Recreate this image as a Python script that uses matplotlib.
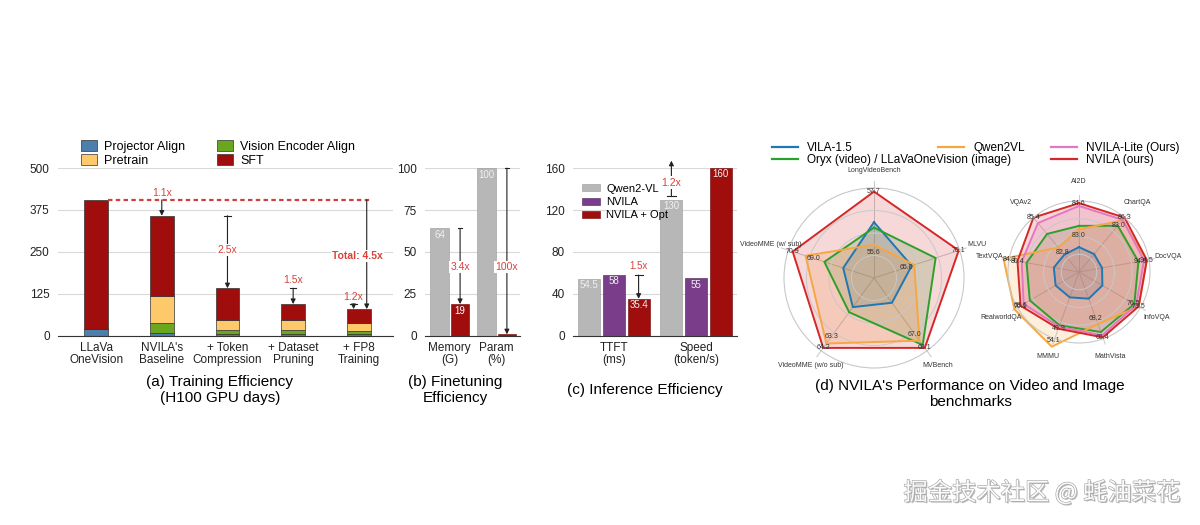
import numpy as np
import matplotlib.pyplot as plt
import matplotlib.patheffects as pe
from matplotlib.patches import Patch
from matplotlib.lines import Line2D

plt.rcParams['font.family'] = ['Liberation Sans', 'DejaVu Sans']

# ---- (a) training efficiency, H100 GPU days
train_cats = ['LLaVa\nOneVision', "NVILA's\nBaseline", '+ Token\nCompression', '+ Dataset\nPruning', '+ FP8\nTraining']
proj_align = [20, 10, 5, 5, 5]
vis_align = [0, 30, 12, 12, 10]
pretrain = [0, 80, 30, 30, 25]
sft = [385, 238, 95, 48, 40]
train_steps = ['1.1x', '2.5x', '1.5x', '1.2x']

# ---- (b) finetuning efficiency
ft_cats = ['Memory\n(G)', 'Param\n(%)']
ft_base = [64, 100]
ft_nvila = [19, 1]
ft_ratio = ['3.4x', '100x']

# ---- (c) inference efficiency
inf_cats = ['TTFT\n(ms)', 'Speed\n(token/s)']
inf_qwen = [54.5, 130]
inf_nvila = [58, 55]
inf_opt = [35.4, 160]
inf_ratio = ['1.5x', '1.2x']

# ---- (d) radar charts (radius relative to outer ring)
video_axes = ['LongVideoBench', 'MLVU', 'MVBench', 'VideoMME (w/o sub)', 'VideoMME (w/ sub)']
vid_vila = [0.62, 0.44, 0.34, 0.40, 0.36]
vid_oryx = [0.56, 0.72, 0.92, 0.47, 0.58]
vid_qwen = [0.37, 0.47, 0.86, 0.90, 0.80]
vid_nvila = [0.96, 0.99, 0.96, 0.96, 0.95]
vid_nvila_txt = ['57.7', '70.1', '68.1', '64.2', '70.9']
vid_qwen_txt = ['55.6', '65.0', '67.0', '63.3', '69.0']

image_axes = ['AI2D', 'ChartQA', 'DocVQA', 'InfoVQA', 'MathVista', 'MMMU', 'RealworldQA', 'TextVQA', 'VQAv2']
img_vila = [0.35, 0.33, 0.33, 0.38, 0.40, 0.38, 0.38, 0.36, 0.32]
img_llava = [0.65, 0.85, 0.85, 0.90, 0.90, 0.80, 0.80, 0.75, 0.70]
img_qwen = [0.60, 0.95, 0.97, 0.97, 0.78, 1.12, 1.05, 1.08, 0.45]
img_lite = [0.93, 0.96, 0.93, 0.93, 0.95, 0.82, 0.90, 0.82, 0.90]
img_nvila = [0.97, 1.00, 0.97, 0.97, 0.98, 0.85, 0.95, 0.88, 1.00]
img_nvila_txt = ['84.6', '86.3', '94.5', '73.5', '65.4', '49.9', '68.6', '80.4', '85.4']
img_qwen_txt = ['83.0', '83.0', '94.5', '76.5', '68.2', '54.1', '70.1', '84.3', '82.8']

c_blue, c_green, c_yel, c_red = '#4c7fab', '#6aa61e', '#fdc96b', '#a00d0d'
c_gray, c_purple = '#b7b7b7', '#7a3d8a'
c_txt = '#d9413a'
grid_c = '#d9d9d9'

fig = plt.figure(figsize=(12, 5.25), dpi=100)
W, H = 1200, 525


def box(x0, y0, x1, y1):
    return [x0 / W, 1 - y1 / H, (x1 - x0) / W, (y1 - y0) / H]


def style_bar_ax(ax):
    for s in ['top', 'right', 'left']:
        ax.spines[s].set_visible(False)
    ax.spines['bottom'].set_color('#333333')
    ax.tick_params(axis='y', length=0, labelsize=8.5, colors='#222222', pad=6)
    ax.tick_params(axis='x', length=0, labelsize=8.5, colors='#222222', pad=4)
    ax.yaxis.grid(True, color=grid_c, lw=0.8)
    ax.set_axisbelow(True)


def arrow(ax, x, y0, y1, cap=True, lw=0.8):
    ax.annotate('', xy=(x, y1), xytext=(x, y0),
                arrowprops=dict(arrowstyle='-|>', color='#222222', lw=lw,
                                mutation_scale=7, shrinkA=0, shrinkB=0))
    if cap:
        ax.plot([x - 0.05, x + 0.05], [y0, y0], color='#222222', lw=lw)


def ratio_text(ax, x, y, s, **kw):
    ax.text(x, y, s, color=c_txt, ha='center', va='center', fontsize=7.5,
            bbox=dict(fc='white', ec='none', pad=1), **kw)


# ---------------- (a)
ax = fig.add_axes(box(58, 168, 393, 336))
x = np.arange(len(train_cats))
bw = 0.36
ek = dict(edgecolor='#333333', linewidth=0.5, width=bw)
b1 = np.array(proj_align)
b2 = b1 + np.array(vis_align)
b3 = b2 + np.array(pretrain)
tot = b3 + np.array(sft)
ax.bar(x, proj_align, color=c_blue, **ek)
ax.bar(x, vis_align, bottom=b1, color=c_green, **ek)
ax.bar(x, pretrain, bottom=b2, color=c_yel, **ek)
ax.bar(x, sft, bottom=b3, color=c_red, **ek)
ax.set_xlim(-0.58, 4.52)
ax.set_ylim(0, 500)
ax.set_yticks([0, 125, 250, 375, 500])
ax.set_xticks(x)
ax.set_xticklabels(train_cats, linespacing=1.0)
style_bar_ax(ax)
ax.plot([bw / 2, 4 + bw / 2], [tot[0], tot[0]], color='#d04040', lw=1.6, ls=(0, (2, 1.5)))
arrow(ax, 1, tot[0], tot[1], cap=False)
ax.text(1, 425, train_steps[0], color=c_txt, ha='center', va='center', fontsize=7.5)
arrow(ax, 2, tot[1], tot[2])
ratio_text(ax, 2, 256, train_steps[1])
arrow(ax, 3, tot[2], tot[3])
ax.text(3, 167, train_steps[2], color=c_txt, ha='center', va='center', fontsize=7.5)
arrow(ax, 3.92, tot[3], tot[4])
ax.text(3.92, 117, train_steps[3], color=c_txt, ha='center', va='center', fontsize=7.5)
arrow(ax, 4.12, tot[0], tot[4], cap=False)
ratio_text(ax, 3.98, 238, 'Total: 4.5x', fontweight='bold')
hs = [Patch(fc=c_blue, ec='#333333', lw=0.5), Patch(fc=c_yel, ec='#333333', lw=0.5),
      Patch(fc=c_green, ec='#333333', lw=0.5), Patch(fc=c_red, ec='#333333', lw=0.5)]
fig.legend(hs, ['Projector Align', 'Pretrain', 'Vision Encoder Align', 'SFT'],
           loc='upper center', bbox_to_anchor=(218 / W, 1 - 134 / H), ncol=2, frameon=False,
           fontsize=9, handlelength=1.3, handleheight=1.0, labelspacing=0.05,
           columnspacing=2.5, handletextpad=0.6, borderpad=0)
fig.text(220 / W, 1 - 390 / H, '(a) Training Efficiency\n(H100 GPU days)', ha='center',
         va='center', fontsize=11, linespacing=1.1)

# ---------------- (b)
ax = fig.add_axes(box(425, 168, 520, 336))
x = np.arange(len(ft_cats))
ax.bar(x - 0.22, ft_base, width=0.4, color=c_gray, edgecolor='#999999', lw=0.4)
ax.bar(x + 0.22, ft_nvila, width=0.4, color=c_red, edgecolor='#6a0000', lw=0.4)
ax.set_xlim(-0.53, 1.5)
ax.set_ylim(0, 100)
ax.set_yticks([0, 25, 50, 75, 100])
ax.set_xticks(x)
ax.set_xticklabels(ft_cats, linespacing=1.0)
style_bar_ax(ax)
for i in range(len(ft_cats)):
    ax.text(i - 0.22, ft_base[i] - 4, str(ft_base[i]), color='#f0f0f0', ha='center', va='center', fontsize=7)
    arrow(ax, i + 0.22, ft_base[i], ft_nvila[i])
    ratio_text(ax, i + 0.22, 41, ft_ratio[i])
ax.text(0.22, ft_nvila[0] - 4, str(ft_nvila[0]), color='white', ha='center', va='center', fontsize=7)
fig.text(455 / W, 1 - 390 / H, '(b) Finetuning\nEfficiency', ha='center', va='center',
         fontsize=11, linespacing=1.1)

# ---------------- (c)
ax = fig.add_axes(box(573, 168, 737, 336))
x = np.arange(len(inf_cats))
ax.bar(x - 0.3, inf_qwen, width=0.27, color=c_gray, edgecolor='#999999', lw=0.4, label='Qwen2-VL')
ax.bar(x, inf_nvila, width=0.27, color=c_purple, edgecolor='#4a1f57', lw=0.4, label='NVILA')
ax.bar(x + 0.3, inf_opt, width=0.27, color=c_red, edgecolor='#6a0000', lw=0.4, label='NVILA + Opt')
ax.set_xlim(-0.5, 1.5)
ax.set_ylim(0, 160)
ax.set_yticks([0, 40, 80, 120, 160])
ax.set_xticks(x)
ax.set_xticklabels(inf_cats, linespacing=1.0)
style_bar_ax(ax)
for i in range(len(inf_cats)):
    for dx, v in [(-0.3, inf_qwen[i]), (0, inf_nvila[i]), (0.3, inf_opt[i])]:
        ax.text(i + dx, v - 6, f'{v:g}', color='#f0f0f0', ha='center', va='center', fontsize=7)
arrow(ax, 0.3, inf_nvila[0], inf_opt[0])
ax.text(0.3, 67, inf_ratio[0], color=c_txt, ha='center', va='center', fontsize=7)
ax.annotate('', xy=(0.7, 167), xytext=(0.7, inf_qwen[1] + 3), annotation_clip=False,
            arrowprops=dict(arrowstyle='-|>', color='#222222', lw=0.8, mutation_scale=7,
                            shrinkA=0, shrinkB=0))
ax.plot([0.65, 0.75], [inf_qwen[1] + 3, inf_qwen[1] + 3], color='#222222', lw=0.8)
ratio_text(ax, 0.7, 146, inf_ratio[1])
ax.legend(loc='upper left', bbox_to_anchor=(0.02, 0.94), frameon=False, fontsize=8,
          handlelength=1.6, handleheight=0.6, labelspacing=0.3, handletextpad=0.6, borderpad=0)
fig.text(645 / W, 1 - 390 / H, '(c) Inference Efficiency', ha='center', va='center', fontsize=11)


# ---------------- (d)
def radar(rect, names, series, txt_pairs, lab_r):
    ax = fig.add_axes(rect, projection='polar')
    n = len(names)
    th = np.linspace(0, 2 * np.pi, n, endpoint=False)
    ax.set_theta_offset(np.pi / 2)
    ax.set_theta_direction(-1)
    ax.set_ylim(0, 1.0)
    ax.set_yticks([0.25, 0.5, 0.75])
    ax.set_yticklabels([])
    ax.set_xticks([])
    ax.grid(True, color='#c8c8c8', lw=0.7)
    ax.spines['polar'].set_color('#c8c8c8')
    ax.spines['polar'].set_linewidth(0.8)
    for t in th:
        ax.plot([t, t], [0, 1.08], color='#c8c8c8', lw=0.7, clip_on=False, zorder=0)
    for vals, col in series:
        v = list(vals) + [vals[0]]
        tt = list(th) + [th[0]]
        ax.fill(tt, v, color=col, alpha=0.18, lw=0, clip_on=False)
        ax.plot(tt, v, color=col, lw=1.4, clip_on=False)
    for (vals, txt), dr in zip(txt_pairs, [0.0, -0.09]):
        for t, r, s in zip(th, vals, txt):
            ax.text(t, r + dr, s, fontsize=5, ha='center', va='center', color='#333333')
    for t, s in zip(th, names):
        ax.text(t, lab_r, s, fontsize=5, ha='center', va='center', color='#333333')
    return ax


radar(box(784, 188, 964, 368), video_axes,
      [(vid_vila, '#1f77b4'), (vid_oryx, '#2ca02c'), (vid_qwen, '#f5a742'), (vid_nvila, '#d62728')],
      [(vid_nvila, vid_nvila_txt), (vid_qwen, vid_qwen_txt)], 1.2)
radar(box(1008, 201, 1150, 343), image_axes,
      [(img_vila, '#1f77b4'), (img_llava, '#2ca02c'), (img_qwen, '#f5a742'), (img_lite, '#e377c2'),
       (img_nvila, '#d62728')],
      [(img_nvila, img_nvila_txt), (img_qwen, img_qwen_txt)], 1.27)

lk = dict(frameon=False, fontsize=8.5, handlelength=2.2, labelspacing=0.0, borderpad=0,
          handletextpad=0.8)
fig.legend([Line2D([], [], color='#1f77b4', lw=1.6), Line2D([], [], color='#2ca02c', lw=1.6)],
           ['VILA-1.5', 'Oryx (video) / LLaVaOneVision (image)'], loc='upper left',
           bbox_to_anchor=(766 / W, 1 - 136 / H), **lk)
fig.legend([Line2D([], [], color='#f5a742', lw=1.6)], ['Qwen2VL'], loc='upper left',
           bbox_to_anchor=(932 / W, 1 - 136 / H), **lk)
fig.legend([Line2D([], [], color='#e377c2', lw=1.6), Line2D([], [], color='#d62728', lw=1.6)],
           ['NVILA-Lite (Ours)', 'NVILA (ours)'], loc='upper left',
           bbox_to_anchor=(1045 / W, 1 - 136 / H), **lk)
fig.text(970 / W, 1 - 394 / H, "(d) NVILA's Performance on Video and Image\nbenchmarks", ha='center',
         va='center', fontsize=11, linespacing=1.1)

# watermark
fig.text(1180 / W, 1 - 493 / H, '掘金技术社区 @ 蚝油菜花', ha='right', va='center', fontsize=17.5,
         color='#fafafa', family=['Noto Sans CJK SC', 'DejaVu Sans'],
         path_effects=[pe.withSimplePatchShadow(offset=(1, -1), shadow_rgbFace='#999999', alpha=0.7),
                       pe.Stroke(linewidth=0.9, foreground='#a8a8a8'), pe.Normal()])

fig.savefig('out.png', dpi=100, facecolor='white')
